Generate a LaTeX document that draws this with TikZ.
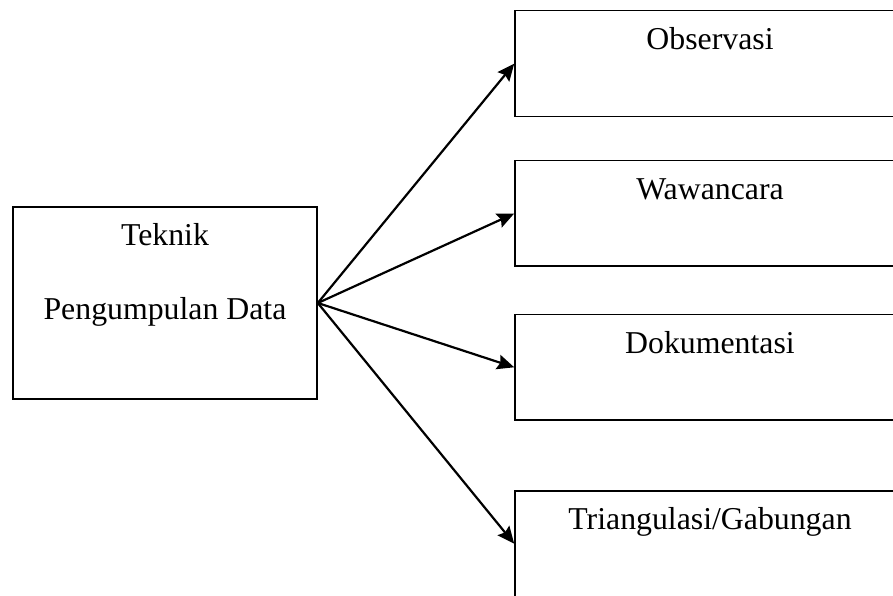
\documentclass[tikz,border=0pt]{standalone}
\usepackage{fontspec}
\setmainfont{Liberation Serif}
\usepackage{tikz}
\usetikzlibrary{arrows.meta,positioning}

\tikzset{
  kotak/.style = {draw, line width=1.6pt, minimum width=390pt, minimum height=106pt, inner sep=0pt},
  tulisan/.style = {anchor=base, font=\fontsize{31.8}{38}\selectfont, inner sep=0pt},
  panah/.style = {-{Stealth[length=17pt, width=15pt, inset=2.5pt]}, line width=2.2pt}
}

\begin{document}
\begin{tikzpicture}[x = 1pt, y = 1pt]
\useasboundingbox (0,0) rectangle (893,595);
\clip (0,0) rectangle (893,595);
\node[kotak, minimum width=304pt, minimum height=192pt] (teknik) at (165,292) {};
\node[tulisan] (teknikA) at ([yshift=-39pt]teknik.north) {Teknik};
\node[tulisan] (teknikB) at ([yshift=-113.7pt]teknik.north) {Pengumpulan Data};
\node[kotak] (observasi) at (710,531.3) {};
\node[tulisan] (observasiT) at ([yshift=-40pt]observasi.north) {Observasi};
\node[kotak, minimum height=105.6pt] (wawancara) at (710,381.5) {};
\node[tulisan] (wawancaraT) at ([yshift=-40pt]wawancara.north) {Wawancara};
\node[kotak, minimum height=105.3pt] (dokumentasi) at (710,227.7) {};
\node[tulisan] (dokumentasiT) at ([yshift=-40pt]dokumentasi.north) {Dokumentasi};
\node[kotak] (triangulasi) at (710,51.3) {};
\node[tulisan] (triangulasiT) at ([yshift=-40pt]triangulasi.north) {Triangulasi/Gabungan};
\draw[panah] (teknik.east) -- (observasi.west);
\draw[panah] (teknik.east) -- (wawancara.west);
\draw[panah] (teknik.east) -- (dokumentasi.west);
\draw[panah] (teknik.east) -- (triangulasi.west);
\end{tikzpicture}
\end{document}
